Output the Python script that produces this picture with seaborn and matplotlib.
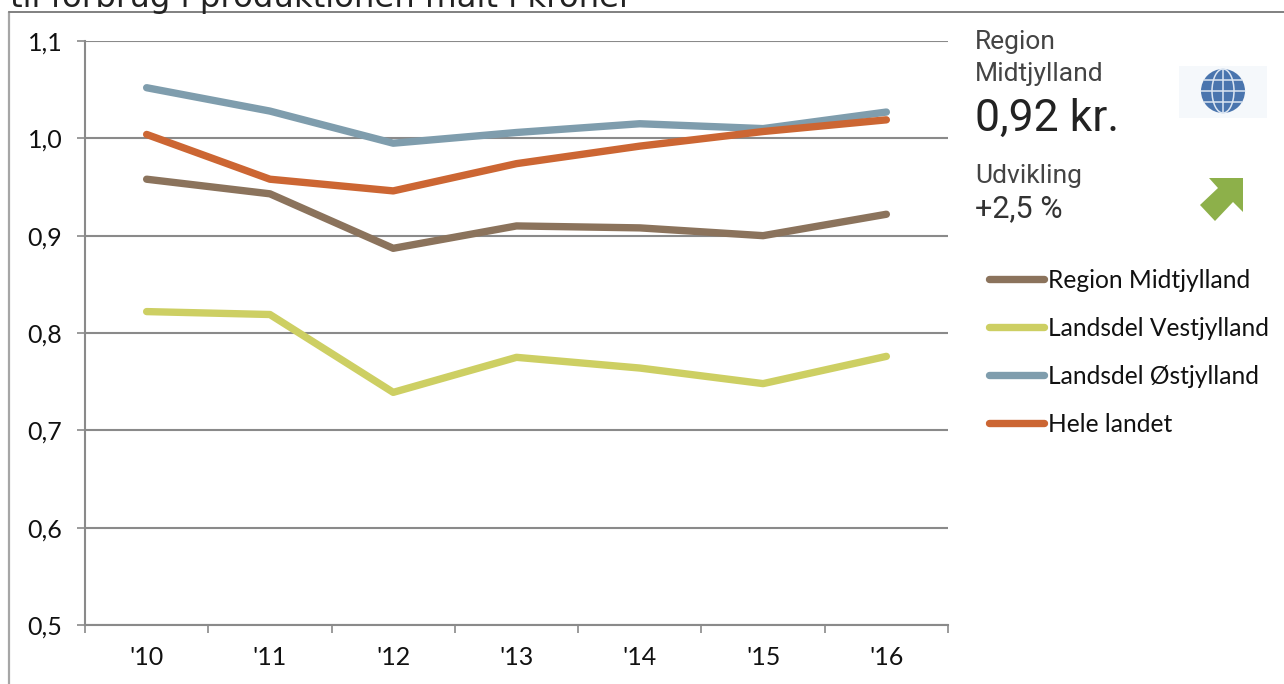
import matplotlib
matplotlib.use("Agg")
import matplotlib.pyplot as plt
import matplotlib.patches as mpatches
import pandas as pd
import seaborn as sns

years = ["'10", "'11", "'12", "'13", "'14", "'15", "'16"]
midtjylland = [0.958, 0.943, 0.887, 0.910, 0.908, 0.900, 0.922]
vestjylland = [0.822, 0.819, 0.739, 0.775, 0.764, 0.748, 0.776]
ostjylland = [1.052, 1.028, 0.995, 1.006, 1.015, 1.010, 1.027]
hele_landet = [1.004, 0.958, 0.946, 0.974, 0.992, 1.007, 1.019]

series_names = ["Region Midtjylland", "Landsdel Vestjylland", "Landsdel Østjylland", "Hele landet"]
colors = ["#8B735C", "#CDCF63", "#7F9DAD", "#CC6633"]
yticks = [0.5, 0.6, 0.7, 0.8, 0.9, 1.0, 1.1]

W, H = 1284, 684
GRAY = "#8A8A8A"

sns.set_theme(style="white")
plt.rcParams["font.family"] = ["Lato", "DejaVu Sans"]

df = pd.DataFrame({
    "pos": list(range(len(years))) * 4,
    "value": midtjylland + vestjylland + ostjylland + hele_landet,
    "serie": [n for n in series_names for _ in years],
})

fig = plt.figure(figsize=(W / 100, H / 100), dpi=100, facecolor="white")

# plot area placed from pixel positions
ax = fig.add_axes([85 / W, 1 - 625 / H, (948 - 85) / W, (625 - 41) / H])

sns.lineplot(
    data=df, x="pos", y="value", hue="serie", hue_order=series_names,
    palette=colors, linewidth=5.3, ax=ax, legend=False,
    solid_capstyle="round", zorder=3,
)

ax.set_xlim(-0.5, 6.5)
ax.set_ylim(0.5, 1.1)
ax.set_xlabel("")
ax.set_ylabel("")

ax.set_yticks(yticks)
ax.set_yticklabels([f"{v:.1f}".replace(".", ",") for v in yticks], fontsize=18, color="#111111")
ax.set_xticks(range(len(years)))
ax.set_xticklabels(years, fontsize=18, color="#111111")
ax.set_xticks([i - 0.5 for i in range(len(years) + 1)], minor=True)

ax.yaxis.grid(True, color=GRAY, linewidth=1.5, zorder=1)
ax.xaxis.grid(False)
ax.tick_params(axis="y", length=5.8, width=1.2, color=GRAY, left=True, pad=10.5)
ax.tick_params(axis="x", which="major", length=0, pad=15)
ax.tick_params(axis="x", which="minor", length=5.8, width=1.2, color=GRAY, bottom=True)

for side in ["top", "right"]:
    ax.spines[side].set_visible(False)
for side in ["left", "bottom"]:
    ax.spines[side].set_color(GRAY)
    ax.spines[side].set_linewidth(1.5)

# overlay in pixel coordinates for frame, side panel, legend
ov = fig.add_axes([0, 0, 1, 1], zorder=5)
ov.set_xlim(0, W)
ov.set_ylim(H, 0)
ov.axis("off")

ov.plot([9, 9], [12, H], color="#A6A6A6", linewidth=1.6)
ov.plot([9, W], [12, 12], color="#808080", linewidth=1.4)

ov.text(10, 7, "til forbrug i produktionen målt i kroner", fontsize=23.3,
        family="DejaVu Sans", color="#222222", va="baseline", ha="left", clip_on=False)

side_font = ["Roboto", "DejaVu Sans"]
ov.text(975, 42, "Region", fontsize=19, family=side_font, color="#444444", va="center")
ov.text(975, 74, "Midtjylland", fontsize=19, family=side_font, color="#444444", va="center")
ov.text(975, 119, "0,92 kr.", fontsize=32, family=side_font, color="#222222", va="center")
ov.text(975, 176, "Udvikling", fontsize=19, family=side_font, color="#444444", va="center")
ov.text(975, 209, "+2,5 %", fontsize=22, family=side_font, color="#333333", va="center")

# globe icon
ov.add_patch(mpatches.Rectangle((1179, 66), 88, 52, facecolor="#F5F8FB", edgecolor="none"))
ov.add_patch(mpatches.Circle((1223, 91), 22, facecolor="#4A75AE", edgecolor="none"))
ov.add_patch(mpatches.Ellipse((1223, 91), 22, 44, fill=False, edgecolor="#DCE6F2", linewidth=1.1))
ov.plot([1223, 1223], [69, 113], color="#DCE6F2", linewidth=1.1)
for yy, half in [(80, 19), (91, 22), (102, 19)]:
    ov.plot([1223 - half, 1223 + half], [yy, yy], color="#DCE6F2", linewidth=1.1)

# arrow icon
ov.add_patch(mpatches.Polygon(
    [(1243, 178), (1243, 212), (1233, 202), (1215, 221), (1200, 205), (1218, 188), (1209, 178)],
    closed=True, facecolor="#8DB04A", edgecolor="none",
))

# legend
for name, col, yy in zip(series_names, colors, [279, 327, 375, 423]):
    ov.plot([989, 1044], [yy, yy], color=col, linewidth=5.3, solid_capstyle="round")
    ov.text(1048, yy + 1, name, fontsize=17.7, color="#111111", va="center", ha="left")

fig.savefig("out.png", dpi=100)
plt.close(fig)
